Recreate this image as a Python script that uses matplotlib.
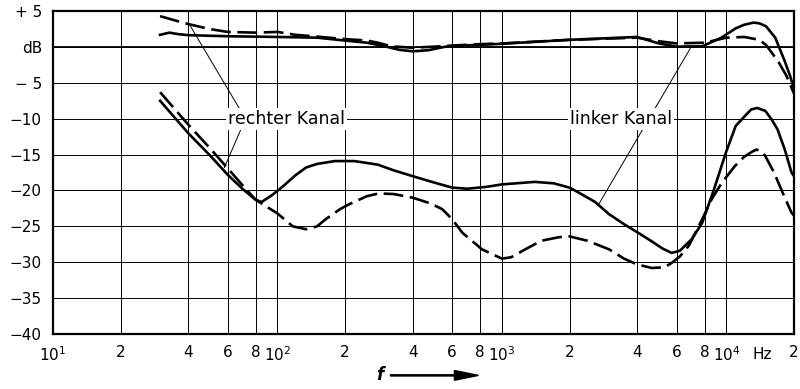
from matplotlib import pyplot as plt
from matplotlib.patches import FancyArrow

# Frequenzgang, oben: Pegel beider Kanaele, unten: Uebersprechen
f_up_r = [30, 35, 40, 50, 60, 80, 100, 120, 150, 200, 250, 280, 320, 400, 500, 600, 800,
          1000, 2000, 4000, 5000, 6000, 8000, 10000, 12000, 14000, 15000, 17000, 18500, 20000]
db_up_r = [4.3, 3.7, 3.2, 2.5, 2.1, 2.0, 2.1, 1.7, 1.45, 1.1, 0.9, 0.6, 0.1, -0.1, 0.05, 0.2, 0.4,
           0.5, 1.0, 1.3, 0.8, 0.5, 0.6, 1.3, 1.4, 1.0, 0.3, -2.0, -4.0, -6.5]

f_up_l = [30, 33, 36, 40, 60, 100, 150, 200, 250, 300, 350, 400, 470, 550, 600, 800, 1000,
          2000, 4000, 5000, 6000, 7800, 9500, 11000, 12000, 13200, 14000, 15000, 16500, 18200,
          19200, 20000]
db_up_l = [1.7, 2.0, 1.8, 1.65, 1.5, 1.4, 1.3, 0.9, 0.6, 0.1, -0.4, -0.6, -0.45, 0.0, 0.15, 0.3,
           0.45, 1.0, 1.4, 0.5, 0.05, 0.1, 1.3, 2.6, 3.1, 3.4, 3.3, 2.9, 1.3, -2.0, -4.0, -5.8]

f_lo_l = [30, 40, 50, 60, 70, 80, 85, 95, 106, 120, 134, 150, 180, 220, 280, 330, 400, 500,
          600, 700, 850, 1000, 1400, 1700, 2000, 2200, 2600, 3000, 3500, 4000, 4600, 5200,
          5700, 6200, 7000, 7800, 8800, 9950, 11000, 12100, 12900, 13700, 14900, 15900, 16900,
          18200, 19500, 20000]
db_lo_l = [-7.5, -12.0, -15.1, -17.8, -19.8, -21.3, -21.6, -20.6, -19.4, -17.9, -16.8, -16.3,
           -15.9, -15.9, -16.4, -17.2, -18.0, -18.9, -19.6, -19.75, -19.5, -19.15, -18.8, -19.0,
           -19.6, -20.3, -21.6, -23.3, -24.7, -25.8, -27.0, -28.1, -28.7, -28.4, -26.8, -24.5,
           -19.85, -14.7, -11.0, -9.6, -8.7, -8.5, -8.9, -10.1, -11.5, -14.3, -17.5, -18.0]

f_lo_r = [30, 40, 50, 60, 70, 80, 90, 100, 117, 134, 150, 164, 190, 209, 250, 283, 330, 400,
          480, 542, 600, 667, 815, 1000, 1100, 1270, 1500, 1800, 2000, 2400, 3000, 3500, 4000,
          4650, 5300, 5700, 6200, 6800, 7800, 8600, 9550, 10900, 12000, 13000, 13600, 14300,
          14900, 16300, 17800, 19500, 20000]
db_lo_r = [-6.3, -10.8, -14.1, -16.9, -19.3, -21.3, -22.3, -23.2, -25.0, -25.4, -25.0, -24.0,
           -22.6, -21.9, -20.8, -20.4, -20.5, -21.0, -21.8, -22.6, -24.0, -25.9, -28.2, -29.5,
           -29.3, -28.2, -27.0, -26.5, -26.4, -27.0, -28.2, -29.5, -30.3, -30.8, -30.7, -30.1,
           -29.2, -27.7, -24.0, -21.2, -18.9, -16.6, -15.3, -14.6, -14.3, -14.5, -15.2, -17.5,
           -20.3, -23.1, -23.5]

x_ticks = [10, 20, 40, 60, 80, 100, 200, 400, 600, 800, 1000, 2000, 4000, 6000, 8000, 10000, 20000]
x_labels = ['$10^1$', '2', '4', '6', '8', '$10^2$', '2', '4', '6', '8', '$10^3$',
            '2', '4', '6', '8', '$10^4$', '2']
y_ticks = [5, 0, -5, -10, -15, -20, -25, -30, -35, -40]
y_labels = ['+ 5', 'dB', '− 5', '−10', '−15', '−20', '−25', '−30', '−35', '−40']

plt.rcParams['font.family'] = ['DejaVu Sans']
plt.rcParams['mathtext.fontset'] = 'dejavusans'

fig = plt.figure(figsize=(8, 3.89), dpi=100)
ax = fig.add_axes([0.06625, 0.1414, 0.92625, 0.830])

ax.set_xscale('log')
ax.set_xlim(10, 20000)
ax.set_ylim(-40, 5)

ax.set_xticks(x_ticks)
ax.set_xticklabels(x_labels)
ax.xaxis.set_minor_locator(plt.NullLocator())
ax.set_yticks(y_ticks)
ax.set_yticklabels(y_labels)
ax.tick_params(length=0, labelsize=11, pad=8)
ax.grid(True, color='black', linewidth=0.7)
ax.axhline(0, color='black', linewidth=1.3)
for s in ax.spines.values():
    s.set_linewidth(1.6)

lw = 1.9
dash = (0, (7.5, 2.5))
ax.plot(f_up_r, db_up_r, color='black', lw=lw, linestyle=dash, zorder=3)
ax.plot(f_up_l, db_up_l, color='black', lw=lw, zorder=3)
ax.plot(f_lo_r, db_lo_r, color='black', lw=lw, linestyle=dash, zorder=3)
ax.plot(f_lo_l, db_lo_l, color='black', lw=lw, zorder=3)

# Hinweislinien
ax.plot([40.6, 72], [3.1, -10], color='black', lw=0.7, zorder=2)
ax.plot([72, 58], [-10, -16.8], color='black', lw=0.7, zorder=2)
ax.plot([6900, 2700], [-0.2, -21.9], color='black', lw=0.7, zorder=2)

box = dict(facecolor='white', edgecolor='none', pad=1.5)
ax.text(110, -10, 'rechter Kanal', fontsize=12.5, ha='center', va='center', bbox=box, zorder=4)
ax.text(3400, -10, 'linker Kanal', fontsize=12.5, ha='center', va='center', bbox=box, zorder=4)

ax.text(14500, -41.8, 'Hz', fontsize=11, ha='center', va='top')

# Achsenbeschriftung f mit Pfeil
fig.text(0.475, 0.035, 'f', fontsize=12, style='italic', fontweight='bold', ha='center', va='center')
fig.patches.append(FancyArrow(
    0.488, 0.035, 0.11, 0, width=0.003, head_width=0.025, head_length=0.03,
    length_includes_head=True, color='black', transform=fig.transFigure, figure=fig))

fig.savefig('out.png', dpi=100)
